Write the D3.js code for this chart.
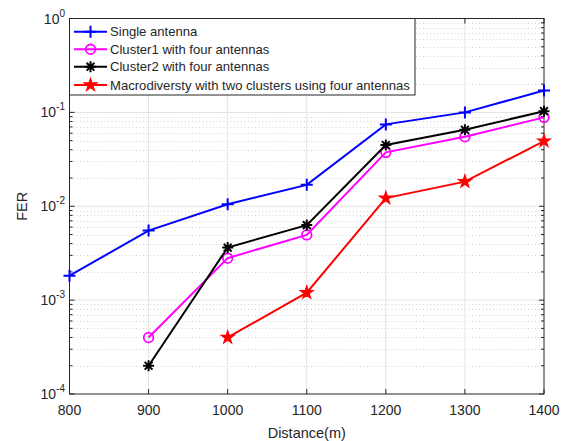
<!DOCTYPE html>
<html>
<head>
<meta charset="utf-8">
<script src="https://cdn.jsdelivr.net/npm/d3@7"></script>
<style>
  body { margin: 0; background: #fff; }
  svg { display: block; font-family: "Liberation Sans", Arial, sans-serif; }
</style>
</head>
<body>
<svg id="chart" width="561" height="441"></svg>
<script>
// data
const distances = [800, 900, 1000, 1100, 1200, 1300, 1400];
const singleAntenna = [1.82e-3, 5.5e-3, 1.05e-2, 1.69e-2, 7.45e-2, 0.1, 0.171];
const cluster1 = [null, 4.0e-4, 2.8e-3, 4.95e-3, 3.75e-2, 5.5e-2, 0.0885];
const cluster2 = [null, 2.0e-4, 3.63e-3, 6.3e-3, 4.49e-2, 6.53e-2, 0.103];
const macro = [null, null, 4.0e-4, 1.2e-3, 1.22e-2, 1.83e-2, 4.95e-2];
const xTicks = [800, 900, 1000, 1100, 1200, 1300, 1400];
const yDecades = [-4, -3, -2, -1, 0];

const series = [
  { name: "Single antenna", values: singleAntenna, color: "#0000ff", marker: "plus" },
  { name: "Cluster1 with four antennas", values: cluster1, color: "#ff00ff", marker: "circle" },
  { name: "Cluster2 with four antennas", values: cluster2, color: "#000000", marker: "asterisk" },
  { name: "Macrodiversty with two clusters using four antennas", values: macro, color: "#ff0000", marker: "star" }
];

const svg = d3.select("#chart");
const pLeft = 69.5, pRight = 544, pTop = 18.5, pBottom = 394;

const x = d3.scaleLinear().domain([800, 1400]).range([pLeft, pRight]);
const y = d3.scaleLog().domain([1e-4, 1]).range([pBottom, pTop]);

// grid
const grid = svg.append("g");
const minorVals = [];
yDecades.slice(0, -1).forEach(e => {
  for (let k = 2; k <= 9; k++) minorVals.push(k * Math.pow(10, e));
});
grid.selectAll("line.minor").data(minorVals).enter().append("line")
  .attr("x1", pLeft).attr("x2", pRight)
  .attr("y1", d => Math.round(y(d)) + 0.5).attr("y2", d => Math.round(y(d)) + 0.5)
  .attr("stroke", "#c8c8c8").attr("stroke-width", 0.8).attr("stroke-dasharray", "1,2.5");
grid.selectAll("line.hmaj").data(yDecades.slice(1, -1)).enter().append("line")
  .attr("x1", pLeft).attr("x2", pRight)
  .attr("y1", d => y(Math.pow(10, d))).attr("y2", d => y(Math.pow(10, d)))
  .attr("stroke", "#e3e3e3").attr("stroke-width", 1);
grid.selectAll("line.vmaj").data(xTicks.slice(1, -1)).enter().append("line")
  .attr("y1", pTop).attr("y2", pBottom)
  .attr("x1", d => x(d)).attr("x2", d => x(d))
  .attr("stroke", "#e3e3e3").attr("stroke-width", 1);

// axes box and ticks
const axisColor = "#262626";
const ax = svg.append("g").attr("stroke", axisColor).attr("stroke-width", 1);
xTicks.forEach(t => {
  ax.append("line").attr("x1", x(t)).attr("x2", x(t)).attr("y1", pBottom).attr("y2", pBottom - 5);
  ax.append("line").attr("x1", x(t)).attr("x2", x(t)).attr("y1", pTop).attr("y2", pTop + 5);
});
yDecades.forEach(e => {
  const yy = y(Math.pow(10, e));
  ax.append("line").attr("x1", pLeft).attr("x2", pLeft + 5).attr("y1", yy).attr("y2", yy);
  ax.append("line").attr("x1", pRight).attr("x2", pRight - 5).attr("y1", yy).attr("y2", yy);
});
minorVals.forEach(v => {
  const yy = y(v);
  ax.append("line").attr("x1", pLeft).attr("x2", pLeft + 3).attr("y1", yy).attr("y2", yy);
  ax.append("line").attr("x1", pRight).attr("x2", pRight - 3).attr("y1", yy).attr("y2", yy);
});
ax.append("rect").attr("x", pLeft).attr("y", pTop).attr("width", pRight - pLeft).attr("height", pBottom - pTop)
  .attr("fill", "none");

// tick labels
svg.append("g").selectAll("text").data(xTicks).enter().append("text")
  .attr("x", d => x(d)).attr("y", pBottom + 21)
  .attr("text-anchor", "middle").attr("font-size", 14).attr("fill", axisColor)
  .text(d => d);

const yl = svg.append("g").attr("fill", axisColor);
yDecades.forEach(e => {
  const t = yl.append("text").attr("x", 65).attr("y", y(Math.pow(10, e)) + 5)
    .attr("text-anchor", "end").attr("font-size", 14);
  t.append("tspan").text("10");
  t.append("tspan").attr("dy", -7).attr("font-size", 10).text(e === 0 ? "0" : "-" + (-e));
});

// axis titles
svg.append("text").attr("x", (pLeft + pRight) / 2).attr("y", 438)
  .attr("text-anchor", "middle").attr("font-size", 14.5).attr("fill", axisColor).text("Distance(m)");
svg.append("text").attr("transform", `translate(27,${(pTop + pBottom) / 2}) rotate(-90)`)
  .attr("text-anchor", "middle").attr("font-size", 14.5).attr("fill", axisColor).text("FER");

// markers
function drawMarker(g, type, color, cx, cy) {
  if (type === "plus") {
    g.append("path").attr("d", `M${cx - 6},${cy}H${cx + 6}M${cx},${cy - 6}V${cy + 6}`)
      .attr("stroke", color).attr("stroke-width", 2).attr("fill", "none");
  } else if (type === "circle") {
    g.append("circle").attr("cx", cx).attr("cy", cy).attr("r", 4.8)
      .attr("stroke", color).attr("stroke-width", 1.8).attr("fill", "none");
  } else if (type === "asterisk") {
    const r = 5.5;
    let d = "";
    [0, 45, 90, 135].forEach(a => {
      const rad = a * Math.PI / 180;
      d += `M${cx - r * Math.cos(rad)},${cy - r * Math.sin(rad)}L${cx + r * Math.cos(rad)},${cy + r * Math.sin(rad)}`;
    });
    g.append("path").attr("d", d).attr("stroke", color).attr("stroke-width", 2).attr("fill", "none");
  } else if (type === "star") {
    g.append("path").attr("d", d3.symbol(d3.symbolStar, 50)())
      .attr("transform", `translate(${cx},${cy})`)
      .attr("fill", color).attr("stroke", color).attr("stroke-width", 1.2);
  }
}

const line = d3.line().defined(d => d[1] != null).x(d => x(d[0])).y(d => y(d[1]));
const plot = svg.append("g");
series.forEach(s => {
  const pts = distances.map((dist, i) => [dist, s.values[i]]);
  plot.append("path").datum(pts).attr("d", line)
    .attr("fill", "none").attr("stroke", s.color).attr("stroke-width", 2);
  pts.filter(p => p[1] != null).forEach(p => drawMarker(plot, s.marker, s.color, x(p[0]), y(p[1])));
});

// legend
const lg = svg.append("g");
const lgX = pLeft, lgY = pTop, lgW = 415 - pLeft, lgH = 95 - pTop;
lg.append("rect").attr("x", lgX).attr("y", lgY).attr("width", lgW).attr("height", lgH)
  .attr("fill", "#fff").attr("stroke", axisColor).attr("stroke-width", 1);
const rowY = [31.7, 49.3, 66.7, 85];
series.forEach((s, i) => {
  const yy = rowY[i];
  lg.append("line").attr("x1", 74).attr("x2", 107).attr("y1", yy).attr("y2", yy)
    .attr("stroke", s.color).attr("stroke-width", 2);
  drawMarker(lg, s.marker, s.color, 90.5, yy);
  lg.append("text").attr("x", 110).attr("y", yy + 4.5).attr("font-size", 13.1)
    .attr("fill", axisColor).text(s.name);
});
</script>
</body>
</html>
